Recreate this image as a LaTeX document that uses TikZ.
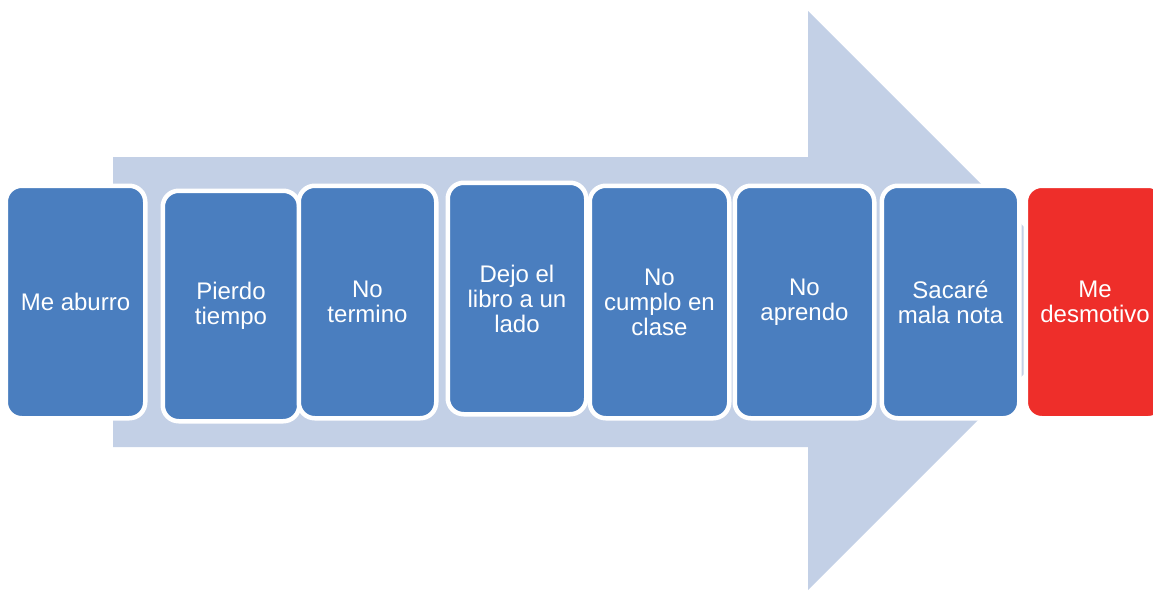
\documentclass[tikz,border=0pt]{standalone}
\usepackage{fontspec}
\setmainfont{Liberation Sans}
\definecolor{boxblue}{RGB}{74,126,191}
\definecolor{arrowblue}{RGB}{195,208,230}
\definecolor{boxred}{RGB}{238,46,42}
\begin{document}
\begin{tikzpicture}[x=1pt,y=-1pt,
  stepbox/.style={rectangle,rounded corners=16pt,draw=white,line width=4.5pt,
    fill=boxblue,text=white,align=center,inner sep=0pt,
    font=\fontsize{24}{25}\selectfont},
  lastbox/.style={stepbox,fill=boxred}]
\useasboundingbox (0,0) rectangle (1153,590);
\fill[arrowblue] (113,157) -- (808,157) -- (808,11) -- (1097.5,300.5) -- (808,590) -- (808,447) -- (113,447) -- cycle;
\node[stepbox,minimum width=139.5,minimum height=232.5] (n1) at (75.5,302) {Me aburro};
\node[stepbox,minimum width=136.5,minimum height=230.5] (n2) at (231,306) {Pierdo\\tiempo};
\node[stepbox,minimum width=137.5,minimum height=232.5] (n3) at (367.5,302) {No\\termino};
\node[stepbox,minimum width=138.5,minimum height=231.5] (n4) at (517,298.5) {Dejo el\\libro a un\\lado};
\node[stepbox,minimum width=139.5,minimum height=232.5] (n5) at (659.5,302) {No\\cumplo en\\clase};
\node[stepbox,minimum width=139.5,minimum height=232.5] (n6) at (804.5,302) {No\\aprendo};
\node[stepbox,minimum width=137.5,minimum height=232.5] (n7) at (950.5,302) {Sacaré\\mala nota};
\node[lastbox,minimum width=138.5,minimum height=232.5] (n8) at (1095,302) {Me\\desmotivo};
\end{tikzpicture}
\end{document}
